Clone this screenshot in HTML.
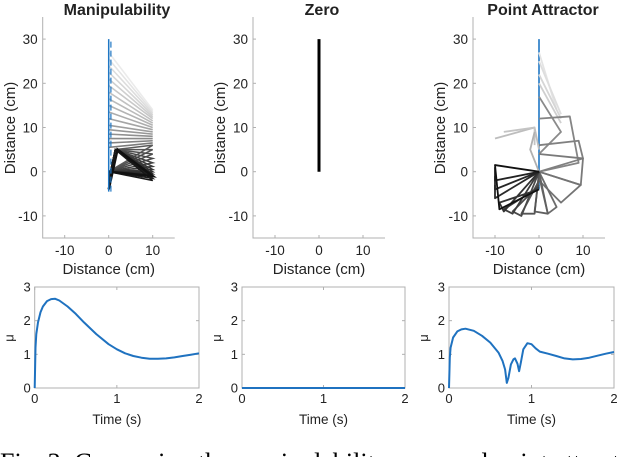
<!DOCTYPE html>
<html><head><meta charset="utf-8"><style>
html,body{margin:0;padding:0;background:#fff;width:640px;height:457px;overflow:hidden}
svg{display:block}
text{font-family:"Liberation Sans",Arial,sans-serif;fill:#222}
</style></head><body>
<svg id="fig" width="640" height="457" viewBox="0 0 640 457">
<text x="0" y="471" style="font-family:'Liberation Serif',serif;font-size:26px;fill:#000">Fig. 3: Comparing the manipulability, zero and point attractor</text>
</svg>
<script>
// ---- data ----
const titles = ["Manipulability","Zero","Point Attractor"];
const topTicks = [-10,0,10];
const topYTicks = [-10,0,10,20,30];
const botXTicks = [0,1,2];
const botYTicks = [0,1,2,3];
const manipT = [0,0.01,0.02,0.04,0.07,0.1,0.15,0.2,0.25,0.3,0.4,0.5,0.6,0.75,0.9,1.0,1.1,1.2,1.3,1.4,1.5,1.6,1.7,1.8,1.9,2.0];
const manipV = [0,1.2,1.6,1.95,2.25,2.42,2.58,2.64,2.65,2.6,2.42,2.2,1.95,1.6,1.3,1.15,1.03,0.95,0.9,0.87,0.87,0.88,0.91,0.95,0.99,1.03];
const zeroT = [0,2];
const zeroV = [0,0];
const paT = [0,0.01,0.02,0.05,0.1,0.15,0.2,0.3,0.4,0.5,0.6,0.65,0.68,0.7,0.72,0.75,0.78,0.8,0.83,0.85,0.87,0.9,0.95,1.0,1.05,1.1,1.2,1.3,1.4,1.5,1.6,1.7,1.8,1.9,2.0];
const paV = [0,0.9,1.2,1.5,1.68,1.74,1.76,1.7,1.55,1.35,1.05,0.8,0.55,0.15,0.3,0.7,0.85,0.88,0.72,0.5,0.75,1.15,1.33,1.3,1.18,1.08,1.02,0.95,0.88,0.85,0.86,0.9,0.96,1.02,1.07];
const manipFramesL = [27,25.5,24,22.5,21,19.5,18,16.5,15,13.5,12,10.5,9.5,8.5,7.5,6.5,5.5];
const manipFramesR = [14,13.6,13.2,12.8,12.4,12,11.5,11,10.5,10,9.5,9,8.5,8,7.5,7,6.5];
const manipDarkR = [6,5,4,3,2,1.2,0.5,0,-0.5,-1,-1.5,-2];
const paFrames = [
 [[0,27,4,14],"#e4e4e4"],[[0,25,5,13],"#dedede"],[[0,22,5,12],"#d6d6d6"],[[0,20,5,11],"#cfcfcf"],
 [[-10,7.5,-1,10,0,5],"#bdbdbd"],[[-8,9,-1,10,-1,6],"#c4c4c4"],[[-1,9,-2,5,0,0],"#b0b0b0"],
 [[0,17,5,9,0,4],"#8a8a8a"],[[0,12,7,12.5,9,2,0,0],"#858585"],[[0,6,9,7,10,3,0,0],"#808080"],
 [[0,4,10,3,9.5,-3,0,0],"#7a7a7a"],[[0,0,9.5,-3,5,-7,0,-2],"#747474"],[[0,0,4,-8,2,-9.5,0,-1],"#6c6c6c"],
 [[0,0,2,-9.5,-1,-9,0,-1],"#606060"],[[0,0,-1,-9.5,-4,-9.5,0,-2],"#555"],[[0,0,-4,-10,-6,-9,0,-3],"#4a4a4a"],
 [[0,0,-6,-9.5,-8,-8.5,0,-3.5],"#3d3d3d"],[[0,0,-8,-9,-9,-7,0,-4],"#333"],[[0,0,-10,-6,-10,-3],"#2a2a2a"],
 [[0,0,-10,-4,-10,-1],"#262626"],[[0,0,-10,-2,-10,1],"#222"],[[0,0,-10,1.5,-9,-8.5,0,-4],"#111"]
];
// ---- drawing ----
const NS="http://www.w3.org/2000/svg", svg=document.getElementById('fig');
function el(tag,attrs,parent){const e=document.createElementNS(NS,tag);for(const k in attrs)e.setAttribute(k,attrs[k]);(parent||svg).appendChild(e);return e;}
function txt(x,y,s,size,anchor,extra){const t=el('text',Object.assign({x:x,y:y,'font-size':size,'text-anchor':anchor||'middle'},extra||{}));t.textContent=s;return t;}
const topX0=[108.7,319,539], topL=[43,253,473];
const ty=v=>171.7-4.42*v;
for(let p=0;p<3;p++){
 const tx=v=>topX0[p]+4.4*v;
 const g=el('g',{});
 
 
 const tc=[117,322,543][p];
 const t=txt(tc,15,titles[p],16,'middle',{'font-weight':'bold','fill':'#000'});
 
 
 const ax=el('path',{d:`M${tx(-15)} ${ty(35)}V${ty(-15)}H${tx(15)}`,stroke:'#b0b0b0','stroke-width':1,fill:'none'},g);
 
 
 topTicks.forEach(v=>{el('line',{x1:tx(v),x2:tx(v),y1:ty(-15),y2:ty(-15)-3,stroke:'#b0b0b0'},g);
  const l=txt(tx(v),ty(-15)+17,String(v),13.5);
  
  });
 topYTicks.forEach(v=>{el('line',{x1:tx(-15),x2:tx(-15)+3,y1:ty(v),y2:ty(v),stroke:'#b0b0b0'},g);
  const l=txt(tx(-15)-5,ty(v)+5,String(v),13.5,'end');
  
  });
 const xl=txt(topX0[p],274,'Distance (cm)',15);
 
 
 const yx=topL[p]-28, yc=128;
 const yl=txt(yx,yc,'Distance (cm)',15,'middle',{transform:`rotate(-90 ${yx} ${yc})`});
 
 
 if(p===0){
  manipFramesL.forEach((yl0,i)=>{const c=Math.round(235-i*7);
   const ln=el('line',{x1:tx(0),y1:ty(yl0),x2:tx(10),y2:ty(manipFramesR[i]),stroke:`rgb(${c},${c},${c})`,'stroke-width':1.6},g);
   
   });
  manipDarkR.forEach((r,i)=>{const c=Math.round(90-i*6);
   const pl=el('polyline',{points:`${tx(0)},${ty(-2)} ${tx(1.5)},${ty(5)} ${tx(10)},${ty(r)} ${tx(0)},${ty(0)}`,stroke:`rgb(${c},${c},${c})`,'stroke-width':1.5,fill:'none'},g);
   
   });
  el('polyline',{points:`${tx(0)},${ty(-4)} ${tx(2)},${ty(5)} ${tx(10)},${ty(-1)} ${tx(0)},${ty(0)}`,stroke:'#111','stroke-width':2.5,fill:'none'},g);
  el('line',{x1:tx(0),y1:ty(-4.5),x2:tx(0),y2:ty(30),stroke:'#1f77c4','stroke-width':1.5},g);
  el('line',{x1:tx(0.5),y1:ty(-4.5),x2:tx(0.5),y2:ty(30),stroke:'#1f77c4','stroke-width':1.2,'stroke-dasharray':'6 3'},g);
 } else if(p===1){
  const ln=el('line',{x1:tx(0),y1:ty(0),x2:tx(0),y2:ty(30),stroke:'#000','stroke-width':3},g);
  
  
 } else {
  el('line',{x1:tx(0),y1:ty(-4),x2:tx(0),y2:ty(30),stroke:'#1f77c4','stroke-width':1.6},g);
  paFrames.forEach(f=>{const pts=[];for(let i=0;i<f[0].length;i+=2)pts.push(tx(f[0][i])+','+ty(f[0][i+1]));
   const pl=el('polyline',{points:pts.join(' '),stroke:f[1],'stroke-width':1.8,fill:'none','stroke-linejoin':'round'},g);
   
   });
 }
}
const bL=[34.7,242,449], bR=[199,405,614], bT=287, bB=388;
const series=[[manipT,manipV],[zeroT,zeroV],[paT,paV]];
for(let p=0;p<3;p++){
 const bx=t=>bL[p]+t*(bR[p]-bL[p])/2, by=v=>bB-v*(bB-bT)/3;
 const g=el('g',{});
 
 
 el('rect',{x:bL[p],y:bT,width:bR[p]-bL[p],height:bB-bT,fill:'none',stroke:'#b0b0b0'},g);
 botXTicks.forEach(v=>{el('line',{x1:bx(v),x2:bx(v),y1:bB,y2:bB-3,stroke:'#b0b0b0'},g);el('line',{x1:bx(v),x2:bx(v),y1:bT,y2:bT+3,stroke:'#b0b0b0'},g);
  const l=txt(bx(v),bB+15,String(v),13);
  
  });
 botYTicks.forEach(v=>{el('line',{x1:bL[p],x2:bL[p]+3,y1:by(v),y2:by(v),stroke:'#b0b0b0'},g);el('line',{x1:bR[p],x2:bR[p]-3,y1:by(v),y2:by(v),stroke:'#b0b0b0'},g);
  const l=txt(bL[p]-4,by(v)+4.5,String(v),13,'end');
  
  });
 const xl=txt((bL[p]+bR[p])/2,424,'Time (s)',13.5);
 
 
 const yx=bL[p]-21, yc=338;
 const yl=txt(yx,yc,'μ',13,'middle',{transform:`rotate(-90 ${yx} ${yc})`});
 
 
 const [T,V]=series[p];
 const d=T.map((t,i)=>(i?'L':'M')+bx(t).toFixed(1)+' '+by(V[i]).toFixed(1)).join('');
 const path=el('path',{d:d,stroke:'#1f72c0','stroke-width':2,fill:'none','stroke-linejoin':'round'},g);
 
 
}
</script>
</body></html>
